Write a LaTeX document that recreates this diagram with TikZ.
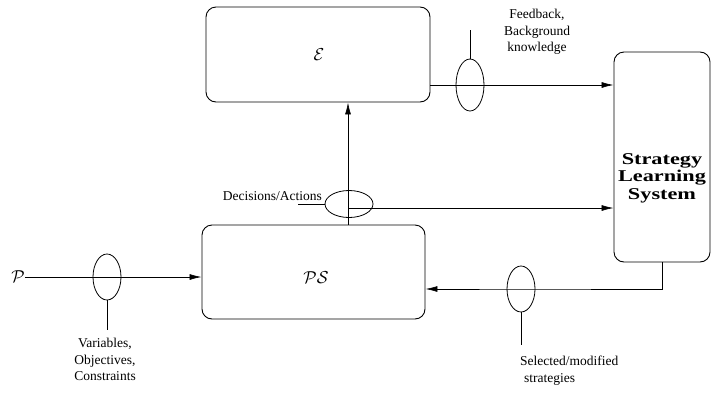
\documentclass[tikz,border=0pt]{standalone}
\usepackage{fontspec}
\usepackage{graphicx}
\setmainfont{Liberation Serif}
\usetikzlibrary{shapes.geometric,arrows.meta}
\begin{document}
\begin{tikzpicture}[x=1pt,y=1pt,
  box/.style={draw,line width=0.9pt,rounded corners=10pt,inner sep=0pt},
  oval/.style={draw,ellipse,line width=0.8pt,inner sep=0pt},
  conn/.style={line width=0.7pt},
  arr/.style={conn,-{Latex[length=12pt,width=6pt]}},
  lbl/.style={font=\fontsize{13.5}{16.5}\selectfont,inner sep=0pt,align=center},
  mlbl/.style={font=\fontsize{17}{20}\selectfont,inner sep=0pt}]
\useasboundingbox (0,0) rectangle (711,-394);
% boxes
\node[box,minimum width=224pt,minimum height=95pt] (e) at (318,-54.5) {};
\node[mlbl] (elab) at (319,-55) {$\mathcal{E}$};
\node[box,minimum width=223pt,minimum height=94pt] (ps) at (313.5,-272) {};
\node[mlbl] (pslab) at (316,-278) {$\mathcal{PS}$};
\node[box,minimum width=96pt,minimum height=210pt] (sls) at (662,-157) {};
\node[inner sep=0pt,font=\fontsize{16.5}{17.5}\selectfont\bfseries] (slslab) at (662,-178) {\scalebox{1.35}[1]{\begin{tabular}{@{}c@{}}Strategy\\Learning\\System\end{tabular}}};
\node[mlbl] (p) at (18,-277) {$\mathcal{P}$};
% ellipses
\node[oval,minimum width=28pt,minimum height=46pt] (pv) at (107,-277) {};
\node[oval,minimum width=48pt,minimum height=27pt] (dec) at (349,-204) {};
\node[oval,minimum width=28pt,minimum height=52pt] (fb) at (470,-85) {};
\node[oval,minimum width=28pt,minimum height=46pt] (sel) at (521,-289) {};
% coordinates
\coordinate (vx) at (348,0);
\coordinate (dj) at (348,-208);
\coordinate (decl) at (298,-204);
\coordinate (fbt) at (470,-30);
\coordinate (pvb) at (107,-330);
\coordinate (selb) at (521,-345);
% connectors
\draw[arr] (p.east) -- (ps.west |- p.east);
\draw[arr] (ps.north -| vx) -- (e.south -| vx);
\draw[arr] (dj) -- (dj -| sls.west);
\draw[arr] (fb.center -| e.east) -- (fb.center -| sls.west);
\draw[arr] (sls.south) |- (sel.center) -- (sel.center -| ps.east);
% leaders
\draw[conn] (dec.west) -- (decl);
\draw[conn] (fb.north) -- (fbt);
\draw[conn] (pv.south) -- (pvb);
\draw[conn] (sel.south) -- (selb);
% labels
\node[lbl,anchor=base east] (declab) at (322,-200) {Decisions/Actions};
\node[lbl,anchor=north] (fblab) at (537,-9) {Feedback,\\Background\\knowledge};
\node[lbl,anchor=north] (pvlab) at (105,-338) {Variables,\\Objectives,\\Constraints};
\node[lbl,anchor=north west,align=left] (sellab) at (520,-356) {Selected/modified\\\hspace{4pt}strategies};
\end{tikzpicture}
\end{document}
